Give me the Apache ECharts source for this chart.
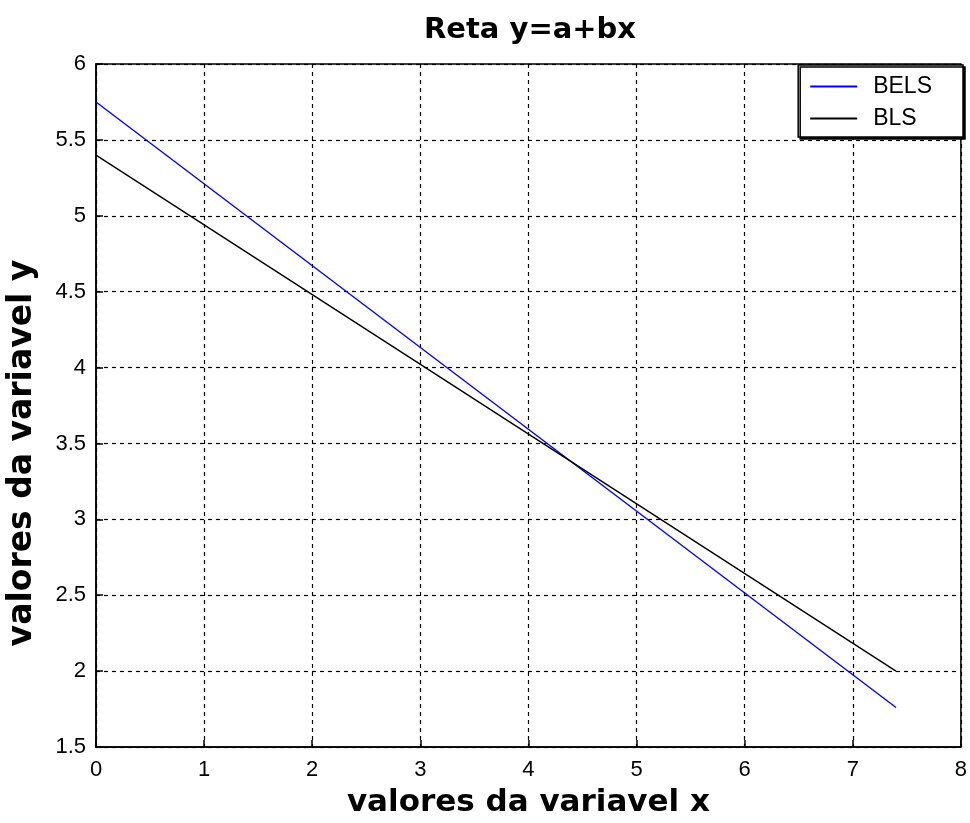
<!DOCTYPE html>
<html><head><meta charset="utf-8">
<script src="https://cdn.jsdelivr.net/npm/echarts@6/dist/echarts.min.js"></script>
<style>html,body{margin:0;padding:0;background:#fff}#c{width:970px;height:823px}</style>
</head><body><div id="c"></div>
<script>
var xValues = [0, 7.4];
var belsValues = [5.75, 1.76];
var blsValues = [5.40, 2.00];
var seriesNames = ['BELS', 'BLS'];
var titleText = 'Reta y=a+bx';
var xName = 'valores da variavel x';
var yName = 'valores da variavel y';

function pairs(xs, ys){ return xs.map(function(x,i){ return [x, ys[i]]; }); }

var chart = echarts.init(document.getElementById('c'));
var font = 'Liberation Sans, Arial, sans-serif';
var boldFont = 'DejaVu Sans, sans-serif';
var axisCommon = {
  axisLine: {show: true, lineStyle: {color: '#000', width: 1.5}},
  axisTick: {show: true, inside: true, length: 7, lineStyle: {color: '#000', width: 1.5}},
  splitLine: {show: true, lineStyle: {color: '#000', type: [4, 4], width: 1.2}}
};
chart.setOption({
  animation: false,
  backgroundColor: '#fff',
  title: {text: titleText, left: 525, top: 11, textAlign: 'center',
    textStyle: {fontFamily: boldFont, fontWeight: 'bold', fontSize: 29, color: '#000'}},
  grid: {left: 96, top: 64, right: 6, bottom: 74, show: true, borderColor: '#000', borderWidth: 1.5},
  legend: {
    orient: 'vertical', right: 7, top: 65,
    data: seriesNames,
    backgroundColor: '#fff', borderColor: '#000', borderWidth: 1.5,
    shadowColor: '#000', shadowOffsetX: 2, shadowOffsetY: 2, shadowBlur: 0,
    padding: [10, 31, 7, 11], itemGap: 9, itemWidth: 47, itemHeight: 24,
    itemStyle: {opacity: 0},
    textStyle: {fontFamily: font, fontSize: 23, color: '#000', padding: [0, 0, 0, 11]}
  },
  xAxis: Object.assign({type: 'value', min: 0, max: 8, interval: 1,
    name: xName, nameLocation: 'middle', nameGap: 40,
    nameTextStyle: {fontFamily: boldFont, fontWeight: 'bold', fontSize: 31, color: '#000'}}, axisCommon,
    {axisLabel: {color: '#000', fontFamily: font, fontSize: 22, margin: 12}}),
  yAxis: Object.assign({type: 'value', min: 1.5, max: 6, interval: 0.5}, axisCommon,
    {axisLabel: {color: '#000', fontFamily: font, fontSize: 22, margin: 10}}),
  graphic: [{
    type: 'text', x: 22, y: 453, rotation: Math.PI / 2,
    style: {text: yName, fontFamily: boldFont, fontWeight: 'bold', fontSize: 33, fill: '#000',
      align: 'center', verticalAlign: 'middle'}
  }],
  series: [
    {name: seriesNames[0], type: 'line', data: pairs(xValues, belsValues), symbol: 'none',
      lineStyle: {color: '#0000ff', width: 1.4}, itemStyle: {color: '#0000ff'}},
    {name: seriesNames[1], type: 'line', data: pairs(xValues, blsValues), symbol: 'none',
      lineStyle: {color: '#000', width: 1.4}, itemStyle: {color: '#000'}}
  ]
});
</script></body></html>
